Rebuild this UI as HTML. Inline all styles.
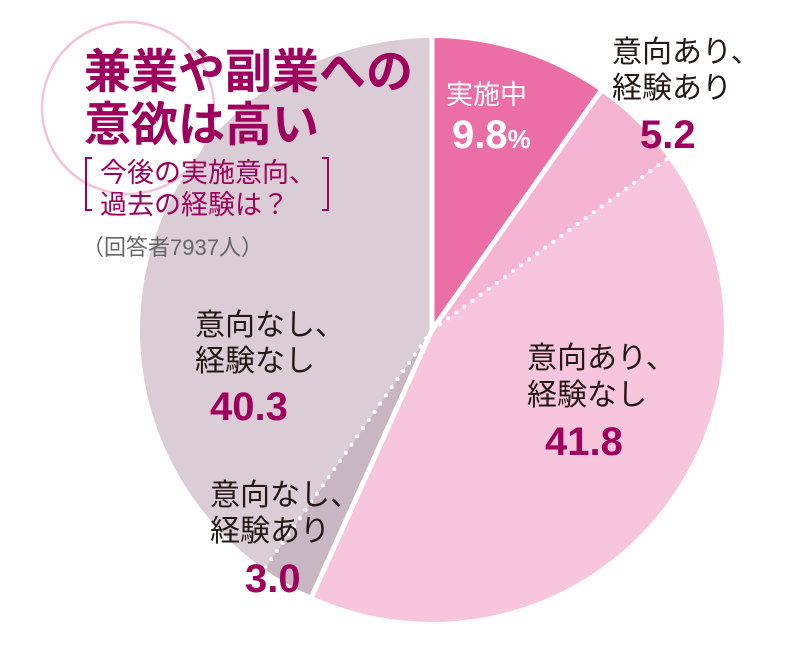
<!DOCTYPE html>
<html><head><meta charset="utf-8"><style>
body{margin:0;width:797px;height:654px;background:#fff;overflow:hidden;font-family:"Liberation Sans","Noto Sans CJK JP",sans-serif}
svg{position:absolute;left:0;top:0}
</style></head><body>
<svg width="797" height="654">
<circle cx="128" cy="108" r="86" fill="none" stroke="#f3c3d8" stroke-width="2.5"/>
<g id="slices"></g>
<g id="labels" font-family="Liberation Sans, Noto Sans CJK JP, sans-serif"></g>
<g font-family="Liberation Sans, Noto Sans CJK JP, sans-serif">
<text x="84" y="88" font-size="47" font-weight="bold" fill="#a0005d">兼業や副業への</text>
<text x="84" y="141" font-size="47" font-weight="bold" fill="#a0005d">意欲は高い</text>
<path d="M92 158 h-6 v52 h6 M322 158 h6 v52 h-6" fill="none" stroke="#a0005d" stroke-width="2"/>
<text x="100" y="182" font-size="27" fill="#a0005d">今後の実施意向、</text>
<text x="100" y="214" font-size="27" fill="#a0005d">過去の経験は？</text>
<text x="82" y="255" font-size="22" fill="#666">（回答者7937人）</text>
</g>
</svg>
<script>
const categories=["実施中","意向あり、経験あり","意向あり、経験なし","意向なし、経験あり","意向なし、経験なし"];
const values=[9.8,5.2,41.8,3.0,40.3];
const valueLabels=["9.8","5.2","41.8","3.0","40.3"];
const colors=["#ec6ea6","#f5b4d2","#f7c6dd","#c8b7c2","#dacdd5"];
const cx=432,cy=330,r=292;
const NS="http://www.w3.org/2000/svg";
const total=values.reduce((a,b)=>a+b,0);
function pt(frac,rad){const a=frac*2*Math.PI;return [cx+rad*Math.sin(a),cy-rad*Math.cos(a)];}
const g=document.getElementById('slices');
let acc=0;const bounds=[];
values.forEach((v,i)=>{
 const f0=acc/total,f1=(acc+v)/total;bounds.push(f0);acc+=v;
 const p0=pt(f0,r),p1=pt(f1,r);const large=(f1-f0)>0.5?1:0;
 const p=document.createElementNS(NS,'path');
 p.setAttribute('d',`M${cx} ${cy} L${p0[0]} ${p0[1]} A${r} ${r} 0 ${large} 1 ${p1[0]} ${p1[1]} Z`);
 p.setAttribute('fill',colors[i]);
 
 
 g.appendChild(p);
});
[0,1,2,3,4].forEach(i=>{
 const e=pt(bounds[i],r+2);
 const l=document.createElementNS(NS,'line');
 l.setAttribute('x1',cx);l.setAttribute('y1',cy);l.setAttribute('x2',e[0]);l.setAttribute('y2',e[1]);
 l.setAttribute('stroke','#fff');
 const dotted=(i===2||i===4);
 l.setAttribute('stroke-width',dotted?4:5);
 if(dotted){l.setAttribute('stroke-dasharray','0 10');l.setAttribute('stroke-linecap','round');}
 
 
 g.appendChild(l);
});
const L=document.getElementById('labels');
function txt(x,y,s,size,fill,bold,anchor,name){
 const t=document.createElementNS(NS,'text');
 t.setAttribute('x',x);t.setAttribute('y',y);t.setAttribute('font-size',size);t.setAttribute('fill',fill);
 if(bold)t.setAttribute('font-weight','bold');
 t.setAttribute('text-anchor',anchor||'start');
 t.textContent=s;
 
 
 L.appendChild(t);return t;
}
const mag="#a0005d",dark="#231815";
txt(446,104,"実施中",27,"#fff",false,"start","label-0-name");
const v0=txt(452,148,valueLabels[0],40,"#fff",true,"start","label-0-value");
const ps=document.createElementNS(NS,'tspan');ps.setAttribute('font-size','26');ps.textContent="%";v0.appendChild(ps);
txt(612,62,"意向あり、",30,dark,false,"start","label-1-name-1");
txt(612,98,"経験あり",30,dark,false,"start","label-1-name-2");
txt(640,148,valueLabels[1],40,mag,true,"start","label-1-value");
txt(527,368,"意向あり、",30,dark,false,"start","label-2-name-1");
txt(527,405,"経験なし",30,dark,false,"start","label-2-name-2");
txt(545,455,valueLabels[2],40,mag,true,"start","label-2-value");
txt(210,505,"意向なし、",30,dark,false,"start","label-3-name-1");
txt(210,541,"経験あり",30,dark,false,"start","label-3-name-2");
txt(245,592,valueLabels[3],40,mag,true,"start","label-3-value");
txt(195,335,"意向なし、",30,dark,false,"start","label-4-name-1");
txt(195,371,"経験なし",30,dark,false,"start","label-4-name-2");
txt(210,420,valueLabels[4],40,mag,true,"start","label-4-value");
</script>
</body></html>
